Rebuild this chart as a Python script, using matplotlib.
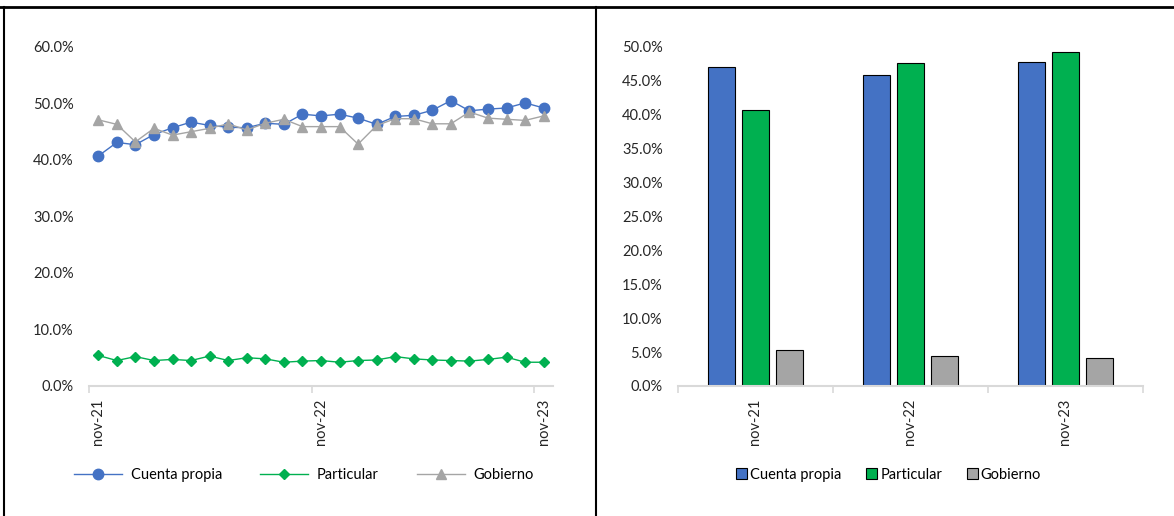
import numpy as np
import matplotlib.pyplot as plt
from matplotlib.lines import Line2D
from matplotlib.ticker import FuncFormatter

plt.rcParams['font.family'] = ['Lato', 'DejaVu Sans']

# monthly series nov-21 .. nov-23 (25 months), in %
cuenta_propia = [40.7, 43.1, 42.7, 44.5, 45.7, 46.7, 46.1, 45.8, 45.7, 46.5, 46.3, 48.1, 47.8,
                 48.1, 47.4, 46.3, 47.7, 47.9, 48.8, 50.5, 48.7, 49.0, 49.2, 50.1, 49.2]
particular = [5.4, 4.5, 5.2, 4.5, 4.7, 4.5, 5.3, 4.5, 5.0, 4.8, 4.2, 4.4, 4.5,
              4.2, 4.5, 4.6, 5.2, 4.8, 4.6, 4.5, 4.4, 4.7, 5.1, 4.2, 4.2]
gobierno = [47.1, 46.3, 43.2, 45.6, 44.4, 45.0, 45.6, 46.4, 45.3, 46.5, 47.2, 45.9, 45.9,
            45.9, 42.8, 46.1, 47.3, 47.3, 46.4, 46.4, 48.5, 47.4, 47.2, 47.0, 47.8]
line_labels = ['nov-21', 'nov-22', 'nov-23']
line_label_pos = [0, 12, 24]

# yearly bars
bar_cats = ['nov-21', 'nov-22', 'nov-23']
bar_cuenta = [47.0, 45.9, 47.8]
bar_particular = [40.7, 47.6, 49.2]
bar_gobierno = [5.3, 4.4, 4.1]

BLUE = '#4472C4'
GREEN = '#00B050'
GRAY = '#A5A5A5'
AXIS = '#D9D9D9'
pct = FuncFormatter(lambda v, p: f'{v:.1f}%')

fig = plt.figure(figsize=(11.74, 5.16), dpi=100)

# ---- left: line chart
ax1 = fig.add_axes([0.0758, 0.252, 0.3952, 0.657])
x = np.arange(len(cuenta_propia))
ax1.plot(x, cuenta_propia, color=BLUE, lw=1.0, marker='o', ms=7.5, label='Cuenta propia')
ax1.plot(x, particular, color=GREEN, lw=1.0, marker='D', ms=5.5, label='Particular')
ax1.plot(x, gobierno, color=GRAY, lw=1.0, marker='^', ms=7.5, label='Gobierno')
ax1.set_xlim(-0.5, len(x) - 0.5)
ax1.set_ylim(0, 60)
ax1.set_yticks(range(0, 61, 10))
ax1.yaxis.set_major_formatter(pct)
ax1.set_xticks(line_label_pos)
ax1.set_xticklabels(line_labels, rotation=90)
ax1.set_xticks([-0.5, 11.5, 23.5], minor=True)

# ---- right: bar chart
ax2 = fig.add_axes([0.5775, 0.252, 0.396, 0.657])
xb = np.arange(len(bar_cats))
w = 0.174
step = 0.22
ax2.bar(xb - step, bar_cuenta, w, color=BLUE, edgecolor='black', lw=0.8, label='Cuenta propia')
ax2.bar(xb, bar_particular, w, color=GREEN, edgecolor='black', lw=0.8, label='Particular')
ax2.bar(xb + step, bar_gobierno, w, color=GRAY, edgecolor='black', lw=0.8, label='Gobierno')
ax2.set_xlim(-0.5, len(xb) - 0.5)
ax2.set_ylim(0, 50)
ax2.set_yticks(range(0, 51, 5))
ax2.yaxis.set_major_formatter(pct)
ax2.set_xticks(xb)
ax2.set_xticklabels(bar_cats, rotation=90)
ax2.set_xticks([-0.5, 0.5, 1.5, 2.5], minor=True)

for ax in (ax1, ax2):
    for s in ('top', 'right', 'left'):
        ax.spines[s].set_visible(False)
    ax.spines['bottom'].set_color(AXIS)
    ax.spines['bottom'].set_linewidth(1.5)
    ax.tick_params(axis='y', length=0, pad=11, labelsize=10.5, labelcolor='#262626')
    ax.tick_params(axis='x', which='major', length=0, pad=9, labelsize=10.5, labelcolor='#262626')
    ax.tick_params(axis='x', which='minor', length=5, width=1.2, color=AXIS)

fig.legend(*ax1.get_legend_handles_labels(), loc='center', bbox_to_anchor=(0.259, 0.08),
           ncol=3, frameon=False, fontsize=10.5, handlelength=3.3, columnspacing=2.6,
           handletextpad=0.6)
fig.legend(*ax2.get_legend_handles_labels(), loc='center', bbox_to_anchor=(0.757, 0.08),
           ncol=3, frameon=False, fontsize=10.5, handlelength=0.75, handleheight=0.75,
           columnspacing=1.7, handletextpad=0.2)

# frame lines of the original layout
fig.add_artist(Line2D([0, 1], [1 - 7 / 516, 1 - 7 / 516], color='black', lw=2, transform=fig.transFigure))
fig.add_artist(Line2D([4 / 1174, 4 / 1174], [0, 1 - 7 / 516], color='black', lw=1.5, transform=fig.transFigure))
fig.add_artist(Line2D([596 / 1174, 596 / 1174], [0, 1 - 7 / 516], color='black', lw=1.5, transform=fig.transFigure))

fig.savefig('out.png', dpi=100)
